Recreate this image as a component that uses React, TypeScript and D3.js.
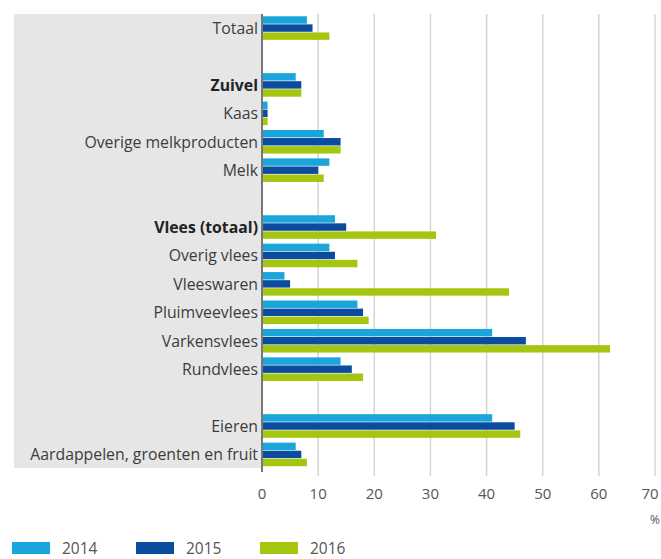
import React from 'react';
import * as d3 from 'd3';

// categorieën van boven naar beneden; lege string = witregel
const categories = [
  'Totaal', '',
  'Zuivel', 'Kaas', 'Overige melkproducten', 'Melk', '',
  'Vlees (totaal)', 'Overig vlees', 'Vleeswaren', 'Pluimveevlees', 'Varkensvlees', 'Rundvlees', '',
  'Eieren', 'Aardappelen, groenten en fruit',
];
const boldCategories = ['Zuivel', 'Vlees (totaal)'];

const years = ['2014', '2015', '2016'];
const values2014 = [8, null, 6, 1, 11, 12, null, 13, 12, 4, 17, 41, 14, null, 41, 6];
const values2015 = [9, null, 7, 1, 14, 10, null, 15, 13, 5, 18, 47, 16, null, 45, 7];
const values2016 = [12, null, 7, 1, 14, 11, null, 31, 17, 44, 19, 62, 18, null, 46, 8];
const xTicks = [0, 10, 20, 30, 40, 50, 60, 70];

const colors = ['#1aa6da', '#0b4c9e', '#a5c611'];

const W = 661;
const H = 559;
const FONT = '"Open Sans", sans-serif';

const App = () => {
  const series = [values2014, values2015, values2016];
  const x = d3.scaleLinear().domain([0, 70]).range([262, 655]);
  const y = d3.scaleBand<number>()
    .domain(categories.map((_, i) => i))
    .range([14, 468.5])
    .paddingInner(0.17)
    .paddingOuter(0.08);
  const ySub = d3.scaleBand<string>()
    .domain(years)
    .range([0, y.bandwidth()])
    .paddingInner(0.08);

  const top = 14;
  const bottom = 468;

  return (
    <svg width={W} height={H} style={{ position: 'absolute', left: 0, top: 0 }}>
      <rect x={0} y={0} width={W} height={H} fill="#fff" />
      <rect x={14} y={top} width={x(0) - 14} height={bottom - top} fill="#e6e6e6" />
      {xTicks.slice(1).map(t => (
        <line key={t} x1={x(t)} x2={x(t)} y1={top} y2={476} stroke="#d4d4d4" strokeWidth={1.5} />
      ))}
      {categories.map((c, i) => (
        c === '' ? null : (
          <g key={i}>
            {series.map((s, k) => (
              <rect
                key={k}
                x={x(0)}
                y={y(i)! + ySub(years[k])!}
                width={x(s[i] as number) - x(0)}
                height={ySub.bandwidth()}
                fill={colors[k]}
              />
            ))}
            <text
              x={x(0) - 4}
              y={y(i)! + y.bandwidth() / 2}
              textAnchor="end"
              dominantBaseline="central"
              fontFamily={FONT}
              fontSize={15.8}
              fontWeight={boldCategories.includes(c) ? 700 : 400}
              fill={boldCategories.includes(c) ? '#222' : '#3c3c3c'}
            >
              {c}
            </text>
          </g>
        )
      ))}
      <line x1={x(0)} x2={x(0)} y1={top} y2={472} stroke="#777" strokeWidth={2} />
      {xTicks.map(t => (
        <text key={t} x={Math.min(x(t), 650)} y={493} textAnchor="middle" dominantBaseline="central"
          fontFamily={FONT} fontSize={15} fill="#555">{t}</text>
      ))}
      <text x={660} y={519} textAnchor="end" dominantBaseline="central"
        fontFamily={FONT} fontSize={12} fill="#555">%</text>
      {years.map((yr, k) => (
        <g key={yr} transform={`translate(${12 + k * 124},542)`}>
          <rect x={0} y={0} width={38} height={12} fill={colors[k]} />
          <text x={50} y={6} dominantBaseline="central" fontFamily={FONT} fontSize={15.5} fill="#555">{yr}</text>
        </g>
      ))}
    </svg>
  );
};

export default App;
